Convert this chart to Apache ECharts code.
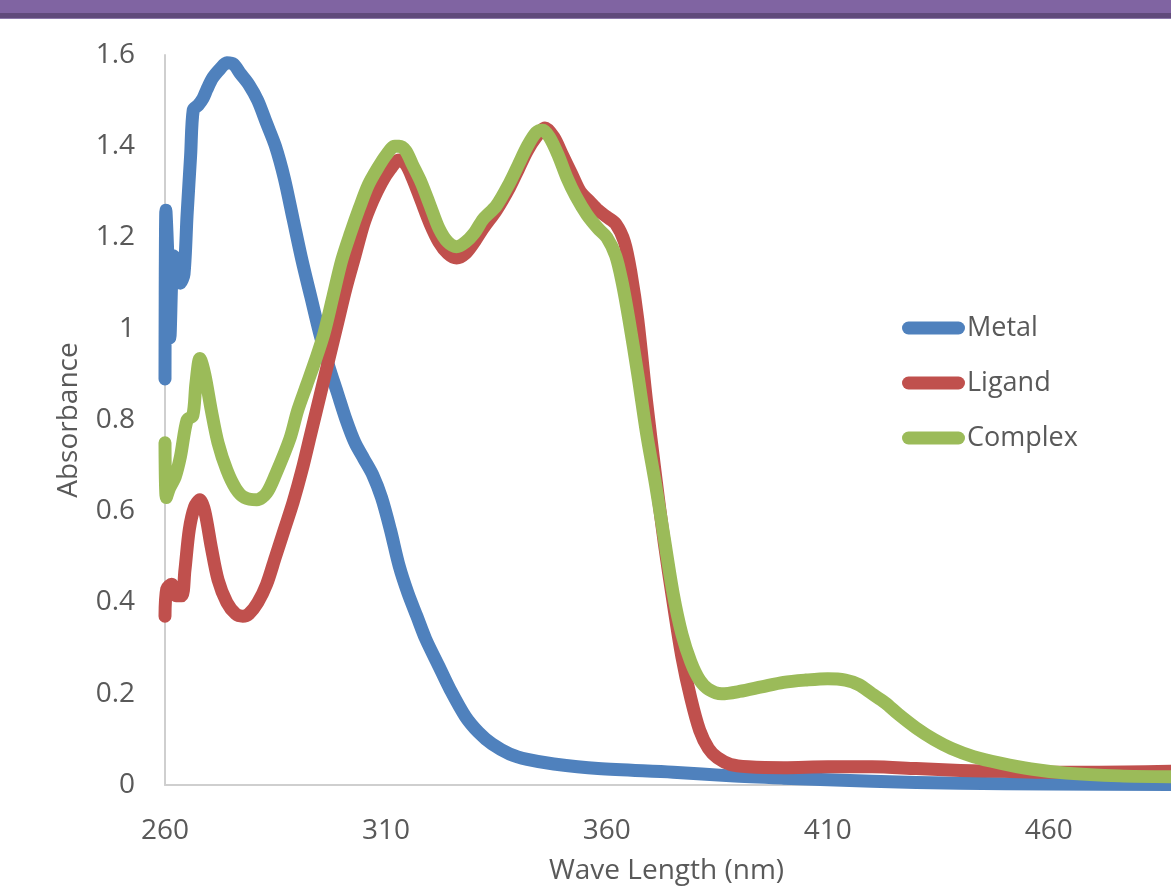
<!DOCTYPE html>
<html>
<head>
<meta charset="utf-8">
<style>
  html, body { margin: 0; padding: 0; background: #ffffff; }
  #chart { width: 1171px; height: 890px; }
</style>
<script src="https://cdn.jsdelivr.net/npm/echarts@6/dist/echarts.min.js"></script>
</head>
<body>
<div id="chart"></div>
<script>
// ---- data ----
const xTickLabels = [260, 310, 360, 410, 460];
const yTickLabels = [0, 0.2, 0.4, 0.6, 0.8, 1, 1.2, 1.4, 1.6];
const seriesNames = ['Metal', 'Ligand', 'Complex'];

const metalX = [260, 260.2, 260.6, 261.1, 261.9, 262.7, 263.5, 264.3, 265, 265.8, 266.4, 267.5, 268.6, 269.5, 270.8, 272.5, 274, 275.5, 277, 279, 281, 283, 285, 287, 289, 291, 293, 295, 297, 299, 301, 303, 305, 307, 309, 311, 313, 315, 317, 319, 322, 324.5, 328, 331, 334, 338, 342, 348, 358, 375, 388, 400, 420, 440, 460, 488];
const metalY = [0.89, 1.26, 1.17, 0.98, 1.16, 1.15, 1.10, 1.12, 1.25, 1.38, 1.48, 1.49, 1.505, 1.525, 1.55, 1.57, 1.583, 1.58, 1.56, 1.535, 1.50, 1.45, 1.40, 1.33, 1.24, 1.15, 1.07, 0.99, 0.92, 0.86, 0.80, 0.75, 0.715, 0.68, 0.63, 0.56, 0.48, 0.42, 0.37, 0.32, 0.26, 0.21, 0.15, 0.115, 0.09, 0.068, 0.056, 0.046, 0.036, 0.028, 0.02, 0.015, 0.008, 0.004, 0.002, 0.001];

const ligandX = [260, 260.4, 261.5, 262.5, 263.8, 264.5, 265.5, 266.7, 267.9, 269, 270.5, 272, 274, 276, 277.6, 279, 281, 283, 285, 287, 289, 291, 293, 295, 297, 299, 301, 303, 305, 307, 309, 311, 313, 314.5, 316, 318, 320, 322, 324, 326, 328, 330, 332, 335, 338, 340, 342, 344, 346, 348, 350, 352, 354, 356, 358, 360, 362, 364, 365.5, 367, 369, 371, 373, 375, 377, 379, 381, 383, 385, 388, 392, 400, 410, 420, 430, 440, 450, 460, 470, 488];
const ligandY = [0.37, 0.43, 0.44, 0.415, 0.415, 0.47, 0.56, 0.61, 0.625, 0.60, 0.52, 0.45, 0.40, 0.375, 0.37, 0.375, 0.40, 0.44, 0.50, 0.56, 0.62, 0.69, 0.77, 0.85, 0.93, 1.01, 1.09, 1.16, 1.23, 1.28, 1.32, 1.35, 1.37, 1.36, 1.33, 1.28, 1.23, 1.19, 1.165, 1.155, 1.165, 1.19, 1.22, 1.26, 1.31, 1.35, 1.39, 1.42, 1.44, 1.42, 1.38, 1.34, 1.30, 1.28, 1.26, 1.245, 1.23, 1.19, 1.12, 1.02, 0.84, 0.68, 0.53, 0.40, 0.28, 0.19, 0.12, 0.08, 0.06, 0.045, 0.04, 0.038, 0.04, 0.04, 0.036, 0.032, 0.03, 0.028, 0.028, 0.03];

const complexX = [260, 260.3, 261, 262.3, 263.5, 265, 266.3, 267, 267.9, 269, 270.5, 272, 274, 276, 278, 280.8, 283, 285, 288.3, 290, 292, 294, 296, 298, 300, 302, 304, 306, 308, 310, 312, 313, 314.5, 316, 318, 320, 322, 324, 326, 328, 330, 332, 335, 338, 340, 342, 344, 345.5, 347, 349, 351, 353, 355.5, 358, 360, 362, 363.5, 365, 367, 369, 371, 373, 375, 377, 379, 381, 383, 386, 390, 395, 400, 405, 410, 414, 417, 420, 423, 426, 430, 434, 438, 443, 449, 456, 464, 476, 488];
const complexY = [0.75, 0.63, 0.65, 0.675, 0.72, 0.80, 0.81, 0.88, 0.935, 0.90, 0.82, 0.75, 0.69, 0.65, 0.63, 0.625, 0.64, 0.68, 0.76, 0.82, 0.875, 0.93, 0.99, 1.07, 1.15, 1.21, 1.265, 1.315, 1.35, 1.38, 1.40, 1.40, 1.39, 1.36, 1.32, 1.27, 1.22, 1.19, 1.18, 1.19, 1.21, 1.24, 1.27, 1.32, 1.36, 1.40, 1.43, 1.435, 1.42, 1.38, 1.33, 1.29, 1.25, 1.22, 1.20, 1.16, 1.10, 1.02, 0.90, 0.77, 0.66, 0.54, 0.42, 0.33, 0.27, 0.23, 0.21, 0.20, 0.205, 0.215, 0.225, 0.23, 0.233, 0.23, 0.22, 0.20, 0.18, 0.155, 0.125, 0.10, 0.08, 0.062, 0.048, 0.035, 0.026, 0.02, 0.018];

// ---- styling ----
const colors = ['#4F81BD', '#C0504D', '#9BBB59'];
const FONT = 'Open Sans';
const TEXT = '#595959';

function pairs(xs, ys) { return xs.map((x, i) => [x, ys[i]]); }
const seriesData = [pairs(metalX, metalY), pairs(ligandX, ligandY), pairs(complexX, complexY)];

const chart = echarts.init(document.getElementById('chart'), null, { renderer: 'canvas' });

const capsule = 'path://M6.5,0 L56.5,0 A6.5,6.5 0 0 1 56.5,13 L6.5,13 A6.5,6.5 0 0 1 6.5,0 Z';

chart.setOption({
  backgroundColor: '#ffffff',
  animation: false,
  color: colors,
  graphic: [
    { type: 'rect', left: 0, top: 0, shape: { width: 1171, height: 13 }, style: { fill: '#8064A2' }, z: 100 },
    { type: 'rect', left: 0, top: 13, shape: { width: 1171, height: 5 }, style: { fill: '#604A7B' }, z: 100 },
    { type: 'rect', left: 0, top: 18, shape: { width: 1171, height: 1 }, style: { fill: '#8C78AA' }, z: 100 }
  ],
  grid: { left: 165, top: 55, bottom: 101, right: 3, containLabel: false },
  legend: {
    orient: 'vertical',
    left: 897,
    top: 309,
    itemWidth: 63,
    itemHeight: 13,
    itemGap: 27,
    icon: capsule,
    data: seriesNames,
    textStyle: { fontFamily: FONT, fontSize: 27, color: TEXT, lineHeight: 28, padding: [0, 0, 0, -3] }
  },
  xAxis: {
    type: 'value',
    min: 260,
    max: 487,
    interval: 50,
    name: 'Wave Length (nm)',
    nameLocation: 'middle',
    nameGap: 72,
    nameTextStyle: { fontFamily: FONT, fontSize: 28, color: TEXT },
    axisLine: { show: true, lineStyle: { color: '#CFCFCF', width: 2 } },
    axisTick: { show: false },
    splitLine: { show: false },
    axisLabel: {
      fontFamily: FONT, fontSize: 28, color: TEXT, margin: 32,
      formatter: v => (xTickLabels.indexOf(v) >= 0 ? String(v) : '')
    }
  },
  yAxis: {
    type: 'value',
    min: 0,
    max: 1.6,
    interval: 0.2,
    name: 'Absorbance',
    nameLocation: 'middle',
    nameGap: 82,
    nameTextStyle: { fontFamily: FONT, fontSize: 28, color: TEXT },
    axisLine: { show: true, lineStyle: { color: '#CFCFCF', width: 2 } },
    axisTick: { show: false },
    splitLine: { show: false },
    axisLabel: {
      fontFamily: FONT, fontSize: 28, color: TEXT, margin: 30,
      formatter: v => {
        const r = Math.round(v * 10) / 10;
        return yTickLabels.indexOf(r) >= 0 ? String(r) : '';
      }
    }
  },
  series: seriesNames.map((name, i) => ({
    name: name,
    type: 'line',
    data: seriesData[i],
    showSymbol: false,
    symbol: 'none',
    smooth: 0.3,
    lineStyle: { width: 13, color: colors[i], cap: 'round', join: 'round' },
    itemStyle: { color: colors[i] },
    emphasis: { disabled: true }
  }))
});
</script>
</body>
</html>
